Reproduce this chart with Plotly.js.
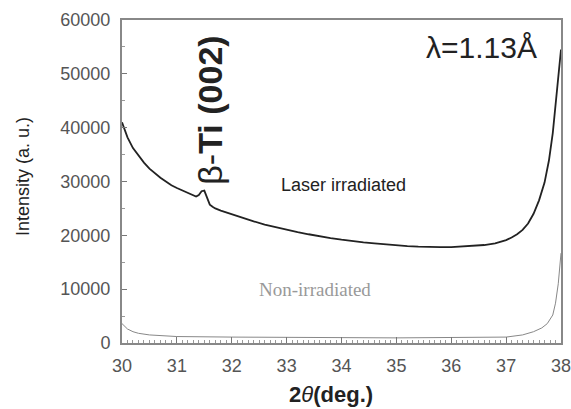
<!DOCTYPE html>
<html>
<head>
<meta charset="utf-8">
<script src="https://cdn.plot.ly/plotly-3.0.1.min.js"></script>
<style>html,body{margin:0;padding:0;background:#fff;}#chart{width:571px;height:409px;}</style>
</head>
<body>
<div id="chart"></div>
<script>
const laserX = [30.00,30.05,30.10,30.20,30.30,30.40,30.50,30.60,30.70,30.80,30.90,31.00,31.10,31.20,31.30,31.35,31.40,31.45,31.50,31.55,31.60,31.65,31.70,31.80,32.00,32.20,32.40,32.60,32.80,33.00,33.20,33.40,33.60,33.80,34.00,34.20,34.40,34.60,34.80,35.00,35.20,35.40,35.60,35.80,36.00,36.20,36.40,36.60,36.80,37.00,37.10,37.20,37.30,37.40,37.50,37.60,37.70,37.78,37.85,37.90,37.95,38.00];
const laserY = [41000,39500,38200,36200,34800,33500,32400,31500,30700,30000,29300,28800,28300,27800,27300,27200,27500,28200,28300,27000,25700,25300,25000,24600,23900,23200,22600,22000,21500,21000,20600,20200,19800,19500,19200,18900,18700,18500,18300,18200,18000,17900,17800,17800,17800,17900,18000,18200,18500,19100,19600,20200,21000,22200,24000,26500,29800,33900,39000,44000,50000,54500];
const nonX = [30.00,30.05,30.10,30.20,30.30,30.50,30.80,31.00,32.00,33.00,34.00,35.00,36.00,37.00,37.30,37.50,37.65,37.75,37.85,37.90,37.95,38.00];
const nonY = [3600,3000,2600,2100,1800,1500,1300,1200,1100,1000,1000,950,1000,1100,1500,2100,2800,3600,5200,7400,11000,16700];
const xTicks = [30,31,32,33,34,35,36,37,38];
const yTicks = [0,10000,20000,30000,40000,50000,60000];

const traces = [
  {x: laserX, y: laserY, type:'scatter', mode:'lines', line:{color:'#222', width:1.8}, hoverinfo:'skip'},
  {x: nonX, y: nonY, type:'scatter', mode:'lines', line:{color:'#888', width:1}, hoverinfo:'skip'}
];
const tickFont = {family:'Liberation Sans, Arial, sans-serif', size:18, color:'#555'};
const layout = {
  width:571, height:409,
  margin:{l:122, r:10, t:20, b:66},
  showlegend:false,
  paper_bgcolor:'#fff', plot_bgcolor:'#fff',
  xaxis:{
    range:[30,38], tickvals:xTicks, ticktext:xTicks.map(String),
    ticks:'inside', ticklen:6, tickcolor:'#777', tickwidth:1,
    minor:{dtick:0.1, ticks:'inside', ticklen:3, tickcolor:'#999', tickwidth:1},
    showline:true, linecolor:'#888', linewidth:2, mirror:true,
    showgrid:false, zeroline:false, tickfont:tickFont, ticklabelstandoff:5,
    ticklabeloverflow:'allow'
  },
  yaxis:{
    range:[0,60000], tickvals:yTicks, ticktext:yTicks.map(String),
    ticks:'inside', ticklen:5, tickcolor:'#777', tickwidth:1,
    minor:{dtick:5000, ticks:'inside', ticklen:3, tickcolor:'#999'},
    showline:true, linecolor:'#888', linewidth:2, mirror:true,
    showgrid:false, zeroline:false, tickfont:tickFont, ticklabelstandoff:6
  },
  annotations:[
    {text:'Intensity (a. u.)', x:(23-122)/439, y:(343-177)/323, xref:'paper', yref:'paper', xanchor:'center', yanchor:'middle', textangle:-90, showarrow:false,
     font:{family:'Liberation Sans, Arial, sans-serif', size:18, color:'#222'}},
    {text:'<b>2</b><i>θ</i><b>(deg.)</b>', x:(331-122)/439, y:(343-394)/323, xref:'paper', yref:'paper', xanchor:'center', yanchor:'middle', showarrow:false,
     font:{family:'Liberation Sans, Arial, sans-serif', size:22, color:'#222'}},
    {text:'λ=1.13Å', x:37.6, y:54800, xref:'x', yref:'y', xanchor:'right', yanchor:'middle', showarrow:false,
     font:{family:'Liberation Sans, Arial, sans-serif', size:30, color:'#222'}},
    {text:'β-<b>Ti (002)</b>', x:31.6, y:43300, xref:'x', yref:'y', xanchor:'center', yanchor:'middle', textangle:-90, showarrow:false,
     font:{family:'Liberation Sans, Arial, sans-serif', size:34, color:'#222'}},
    {text:'Laser irradiated', x:34.04, y:29300, xref:'x', yref:'y', xanchor:'center', yanchor:'middle', showarrow:false,
     font:{family:'Liberation Sans, Arial, sans-serif', size:18, color:'#222'}},
    {text:'Non-irradiated', x:33.51, y:10000, xref:'x', yref:'y', xanchor:'center', yanchor:'middle', showarrow:false,
     font:{family:'Liberation Serif, Times New Roman, serif', size:19, color:'#999'}}
  ]
};
Plotly.newPlot('chart', traces, layout, {staticPlot:true, displayModeBar:false});
</script>
</body>
</html>
